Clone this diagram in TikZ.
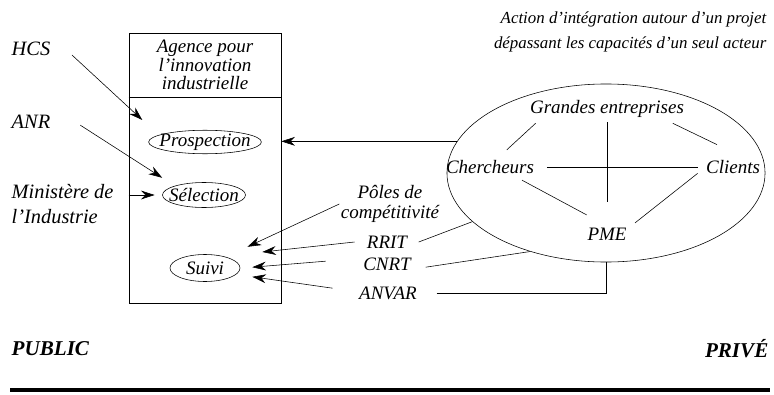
\documentclass[tikz,border=0pt]{standalone}
\usepackage{fontspec}
\setmainfont{Liberation Serif}
\usetikzlibrary{arrows.meta,shapes.geometric}

\begin{document}
\begin{tikzpicture}[x=0.025cm, y=-0.025cm,
	font=\itshape\fontsize{13.5}{14}\selectfont,
	lbl/.style={inner sep=1pt, align=center},
	oval/.style={draw, ellipse, inner xsep=-4pt, inner ysep=0pt},
	arr/.style={-{Stealth[length=3.4mm, width=2.2mm]}},
	side/.style={inner sep=1pt, font=\bfseries\itshape\fontsize{15}{16}\selectfont}]
\useasboundingbox (0,0) rectangle (774,394);

% agence
\node[draw, minimum width=3.8cm, minimum height=6.75cm] (agence) at (205,168) {};
\draw (agence.west |- 0,97) -- (agence.east |- 0,97);
\node[lbl, font=\itshape\fontsize{13.5}{13}\selectfont] (titre) at (205,65) {Agence pour\\l'innovation\\industrielle};
\node[oval, minimum width=2.8cm, minimum height=0.575cm] (prosp) at (205,142) {Prospection};
\node[oval, minimum width=2.075cm, minimum height=0.625cm] (sel) at (204,195) {Sélection};
\node[oval, minimum width=1.75cm, minimum height=0.675cm] (suivi) at (205,268) {Suivi};

% public
\node[lbl, font=\itshape\fontsize{14.5}{16}\selectfont] (hcs) at (31,49) {HCS};
\node[lbl, font=\itshape\fontsize{14.5}{16}\selectfont] (anr) at (31,122) {ANR};
\node[lbl, align=left, anchor=west, font=\itshape\fontsize{14.5}{17.5}\selectfont] (mini) at (10,204) {Ministère de\\l'Industrie};
\draw[arr] ([shift={(0.5cm,-0.15cm)}]hcs.east) -- ([shift={(-0.15cm,0.55cm)}]prosp.west);
\draw[arr] ([shift={(0.71cm,-0.08cm)}]anr.east) -- ([yshift=0.43cm]sel.west);
\draw[arr] (agence.west |- sel.west) -- ([xshift=-0.19cm]sel.west);

% intermediaires
\node[lbl] (poles) at (390,204) {Pôles de\\compétitivité};
\node[lbl] (rrit) at (387,242) {RRIT};
\node[lbl] (cnrt) at (387,264) {CNRT};
\node[lbl] (anvar) at (388,293) {ANVAR};
\draw[arr] (poles.west) -- ([shift={(0.18cm,0.53cm)}]suivi.east);
\draw[arr] ([xshift=-0.27cm]rrit.west) -- ([shift={(0.55cm,0.4cm)}]suivi.east);
\draw[arr] ([shift={(-0.9cm,0.07cm)}]cnrt.west) -- ([shift={(0.3cm,0.02cm)}]suivi.east);
\draw[arr] ([shift={(-0.62cm,0.12cm)}]anvar.west) -- ([shift={(0.3cm,-0.22cm)}]suivi.east);

% prive
\node[draw, ellipse, minimum width=7.95cm, minimum height=4.45cm] (acteurs) at (606,173) {};
\node[lbl] (ge) at (607,109) {Grandes entreprises};
\node[lbl] (cher) at (490,167) {Chercheurs};
\node[lbl] (cli) at (733,167) {Clients};
\node[lbl] (pme) at (607,234) {PME};
\draw ([shift={(0.42cm,0.22cm)}]cher.north) -- ([shift={(0.18cm,-0.1cm)}]ge.south west);
\draw ([shift={(-0.32cm,-0.1cm)}]ge.south east) -- ([shift={(-0.4cm,0.35cm)}]cli.north);
\draw[shorten <=0.08cm, shorten >=0.6cm] (ge.south) -- (pme.north);
\draw[shorten <=0.28cm, shorten >=0.17cm] (cher.east) -- (cli.west);
\draw ([shift={(0.8cm,-0.12cm)}]cher.south) -- ([shift={(0.02cm,0.28cm)}]pme.north west);
\draw ([shift={(-0.17cm,0.05cm)}]cli.south west) -- ([shift={(0.17cm,0.08cm)}]pme.north east);
\draw ([xshift=0.25cm]rrit.east) -- (acteurs.200);
\draw ([shift={(0.33cm,-0.08cm)}]cnrt.east) -- (acteurs.226);
\draw ([xshift=0.45cm]anvar.east) -| (acteurs.south);
\draw[arr] (acteurs.168) -- (agence.east |- acteurs.168);

\node[lbl, anchor=east, align=right, font=\itshape\fontsize{12}{17.8}\selectfont] (action) at (768,32) {Action d'intégration autour d'un projet\\dépassant les capacités d'un seul acteur};

% bas
\node[side, anchor=west] (pub) at (10,349) {PUBLIC};
\node[side, anchor=east] (prive) at (770,349) {PRIVÉ};
\draw[line width=2.2pt] (pub.west |- 0,390) -- (prive.east |- 0,390);
\end{tikzpicture}
\end{document}
